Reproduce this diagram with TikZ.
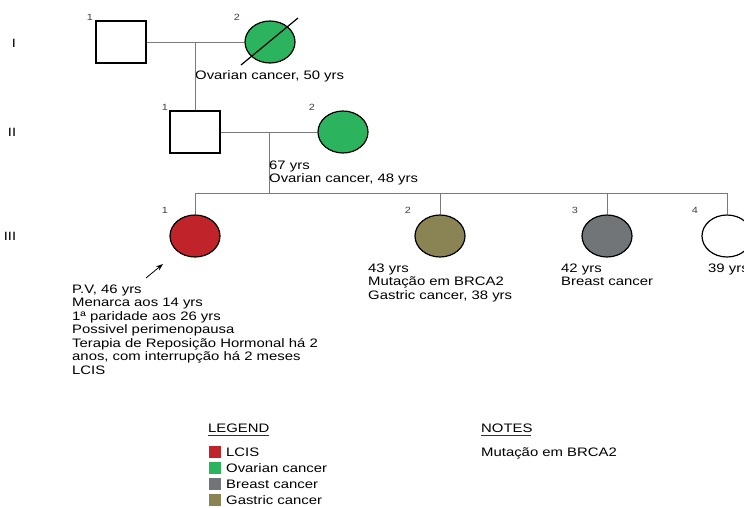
\documentclass[tikz,border=0pt]{standalone}
\usepackage{fontspec}
\setmainfont{Liberation Sans}[FakeStretch=1.21]
\usetikzlibrary{shapes.geometric,arrows.meta}
\definecolor{lcis}{HTML}{C1232B}
\definecolor{ovar}{HTML}{2BB35E}
\definecolor{breast}{HTML}{727578}
\definecolor{gastric}{HTML}{8A8455}
\definecolor{lin}{HTML}{7A7A7A}
\begin{document}
\begin{tikzpicture}[x=1pt,y=-1pt,
  male/.style={draw=black, line width=1.2pt, rectangle, minimum width=50pt, minimum height=42pt, inner sep=0pt},
  female/.style={draw=black, line width=1.2pt, ellipse, minimum width=50pt, minimum height=42pt, inner sep=0pt},
  conn/.style={draw=lin, line width=0.9pt},
  num/.style={font=\fontsize{9}{10}\selectfont, text=black!75, inner sep=0pt},
  gen/.style={font=\fontsize{12}{13}\selectfont, inner sep=0pt},
  info/.style={font=\fontsize{12.3}{13.5}\selectfont, align=left, anchor=north west, inner sep=0pt},
  swatch/.style={rectangle, minimum width=12pt, minimum height=12pt, inner sep=0pt, anchor=west}]
\useasboundingbox (0,0) rectangle (744,508);
% generation labels
\node[gen] (gI) at (14,43) {I};
\node[gen] (gII) at (12,132) {II};
\node[gen] (gIII) at (10,236) {III};
% Generation I
\node[male] (i1) at (121,42) {};
\node[female, fill=ovar] (i2) at (270,42) {};
\draw[line width=1.2pt] (i2.center) ++(-29,23) -- ++(57,-47);
\node[num] (n_i1) at (90,17) {1};
\node[num] (n_i2) at (237,17) {2};
\coordinate (m1) at (195,42);
\draw[conn] (i1.east) -- (i2.west);
\node[info] (t_i2) at (195,70.5) {Ovarian cancer, 50 yrs};
% Generation II
\node[male] (ii1) at (195,132) {};
\node[female, fill=ovar] (ii2) at (343,132) {};
\node[num] (n_ii1) at (165,107) {1};
\node[num] (n_ii2) at (312,107) {2};
\draw[conn] (m1) -- (ii1.north);
\draw[conn] (ii1.east) -- (ii2.west);
\coordinate (m2) at (269,132);
\coordinate (sib) at (269,193);
\draw[conn] (m2) -- (sib);
\node[info] (t_ii2) at (269,160.5) {67 yrs\\Ovarian cancer, 48 yrs};
% Generation III
\node[female, fill=lcis] (iii1) at (195,236) {};
\node[female, fill=gastric] (iii2) at (440,236) {};
\node[female, fill=breast] (iii3) at (607,236) {};
\node[female, fill=white] (iii4) at (727,236) {};
\node[num] (n_iii1) at (165,210) {1};
\node[num] (n_iii2) at (408,210) {2};
\node[num] (n_iii3) at (575,210) {3};
\node[num] (n_iii4) at (695,210) {4};
\coordinate (s1) at (195,193);
\coordinate (s4) at (727,193);
\draw[conn] (s1) -- (s4);
\draw[conn] (s1) -- (iii1.north);
\draw[conn] (440,193) -- (iii2.north);
\draw[conn] (607,193) -- (iii3.north);
\draw[conn] (s4) -- (iii4.north);
\coordinate (a0) at (146,278);
\coordinate (a1) at (163,264);
\draw[line width=0.8pt, -{Stealth[length=7pt,width=5pt]}] (a0) -- (a1);
\node[info] (t_iii1) at (72,284.5) {P.V, 46 yrs\\Menarca aos 14 yrs\\1ª paridade aos 26 yrs\\Possivel perimenopausa\\Terapia de Reposição Hormonal há 2\\anos, com interrupção há 2 meses\\LCIS};
\node[info] (t_iii2) at (368,263.5) {43 yrs\\Mutação em BRCA2\\Gastric cancer, 38 yrs};
\node[info] (t_iii3) at (561,263.5) {42 yrs\\Breast cancer};
\node[info] (t_iii4) at (708,263.5) {39 yrs};
% Legend
\node[info] (leg) at (208,423.5) {LEGEND};
\draw[line width=0.9pt, black!80] (leg.south west) ++(0,3) -- ++(61,0);
\node[swatch, fill=lcis] (sw1) at (209,452) {};
\node[swatch, fill=ovar] (sw2) at (209,468) {};
\node[swatch, fill=breast] (sw3) at (209,484) {};
\node[swatch, fill=gastric] (sw4) at (209,500) {};
\node[info, anchor=west] (l1) at (226,452) {LCIS};
\node[info, anchor=west] (l2) at (226,468) {Ovarian cancer};
\node[info, anchor=west] (l3) at (226,484) {Breast cancer};
\node[info, anchor=west] (l4) at (226,500) {Gastric cancer};
\node[info] (notes) at (481,423.5) {NOTES};
\draw[line width=0.9pt, black!80] (notes.south west) ++(0,3) -- ++(50,0);
\node[info] (note1) at (481,447.5) {Mutação em BRCA2};
\end{tikzpicture}
\end{document}
